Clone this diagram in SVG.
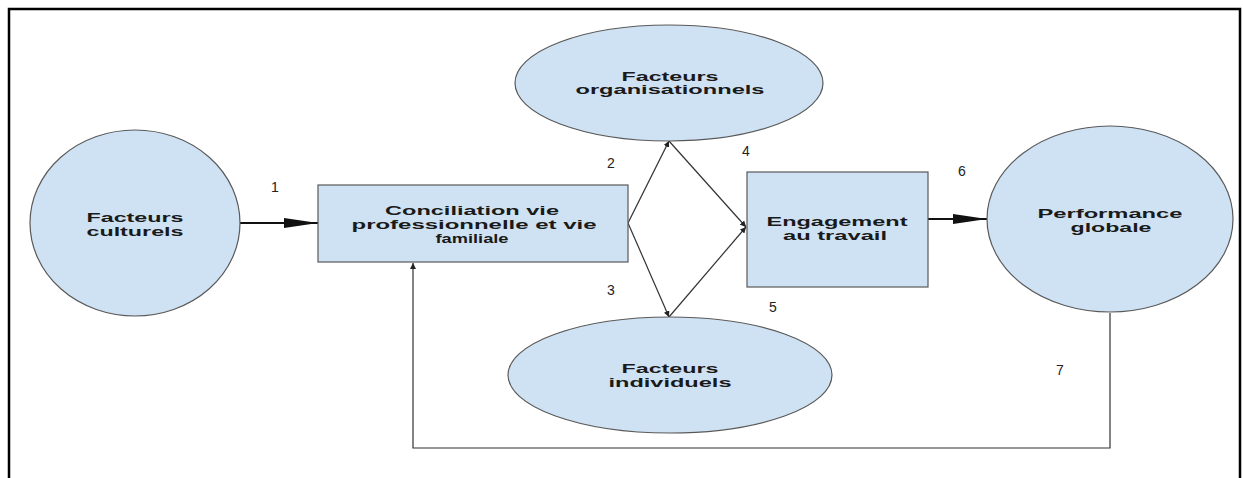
<svg xmlns="http://www.w3.org/2000/svg" width="1243" height="478" viewBox="0 0 1243 478">
<defs>
<style>
.node{fill:#cfe2f3;stroke:#595959;stroke-width:1.2}
.t{font-family:"Liberation Sans",Arial,sans-serif;font-weight:bold;font-size:12.5px;fill:#1a1a1a;text-anchor:middle;font-variant-ligatures:none}
.n{font-family:"Liberation Sans",Arial,sans-serif;font-size:14px;fill:#222;text-anchor:middle}
.c{fill:none;stroke:#333;stroke-width:1.2}
.thick{fill:none;stroke:#111;stroke-width:2.2}
</style>
<marker id="big" viewBox="0 0 34 12" refX="34" refY="6" markerWidth="34" markerHeight="12" markerUnits="userSpaceOnUse" orient="auto">
<path d="M0,1 L34,6 L0,11 Z" fill="#111"/>
</marker>
<marker id="small" viewBox="0 0 6 6" refX="6" refY="3" markerWidth="6" markerHeight="6" markerUnits="userSpaceOnUse" orient="auto">
<path d="M0,0 L6,3 L0,6 Z" fill="#222"/>
</marker>
</defs>
<rect x="0" y="0" width="1243" height="478" fill="#ffffff"/>
<path d="M9,478 L9,9 L1240,9 L1240,478" fill="none" stroke="#000" stroke-width="2.5"/>

<g id="connectors">
<line class="thick" x1="240" y1="223" x2="318" y2="223" marker-end="url(#big)"/>
<line class="c" x1="628" y1="223" x2="669" y2="141" marker-end="url(#small)"/>
<line class="c" x1="669" y1="141" x2="746" y2="227" marker-end="url(#small)"/>
<line class="c" x1="628" y1="223" x2="669" y2="317" marker-end="url(#small)"/>
<line class="c" x1="669" y1="317" x2="746" y2="227" marker-end="url(#small)"/>
<line class="thick" x1="928" y1="219" x2="987" y2="219" marker-end="url(#big)"/>
<polyline class="c" points="1110,313 1110,448 413,448 413,263" marker-end="url(#small)"/>
</g>

<g id="labels">
<text class="n" x="275" y="192">1</text>
<text class="n" x="611" y="168">2</text>
<text class="n" x="611" y="295">3</text>
<text class="n" x="746" y="156">4</text>
<text class="n" x="773" y="312">5</text>
<text class="n" x="962" y="176">6</text>
<text class="n" x="1060" y="375">7</text>
</g>

<g id="facteurs-culturels">
<ellipse class="node" cx="135" cy="223" rx="105" ry="93"/>
<text class="t" x="135" y="222" textLength="97" lengthAdjust="spacingAndGlyphs">Facteurs</text>
<text class="t" x="135" y="236" textLength="97" lengthAdjust="spacingAndGlyphs">culturels</text>
</g>

<g id="conciliation">
<rect class="node" x="318" y="185" width="310" height="77"/>
<text class="t" x="472" y="215" textLength="174" lengthAdjust="spacingAndGlyphs">Conciliation vie</text>
<text class="t" x="474" y="229" textLength="245" lengthAdjust="spacingAndGlyphs">professionnelle et vie</text>
<text class="t" transform="translate(472,243) scale(1.46,1)" x="0" y="0">familiale</text>
</g>

<g id="facteurs-organisationnels">
<ellipse class="node" cx="669" cy="83" rx="154" ry="58"/>
<text class="t" x="670" y="81" textLength="97" lengthAdjust="spacingAndGlyphs">Facteurs</text>
<text class="t" x="670" y="94" textLength="189" lengthAdjust="spacingAndGlyphs">organisationnels</text>
</g>

<g id="facteurs-individuels">
<ellipse class="node" cx="670" cy="375" rx="162" ry="58"/>
<text class="t" x="670" y="373" textLength="97" lengthAdjust="spacingAndGlyphs">Facteurs</text>
<text class="t" x="670" y="387" textLength="123" lengthAdjust="spacingAndGlyphs">individuels</text>
</g>

<g id="engagement">
<rect class="node" x="747" y="172" width="181" height="115"/>
<text class="t" x="837" y="226" textLength="141" lengthAdjust="spacingAndGlyphs">Engagement</text>
<text class="t" x="835" y="240" textLength="104" lengthAdjust="spacingAndGlyphs">au travail</text>
</g>

<g id="performance-globale">
<ellipse class="node" cx="1110" cy="219" rx="123" ry="93"/>
<text class="t" x="1110" y="218" textLength="145" lengthAdjust="spacingAndGlyphs">Performance</text>
<text class="t" x="1111" y="232" textLength="81" lengthAdjust="spacingAndGlyphs">globale</text>
</g>
</svg>
